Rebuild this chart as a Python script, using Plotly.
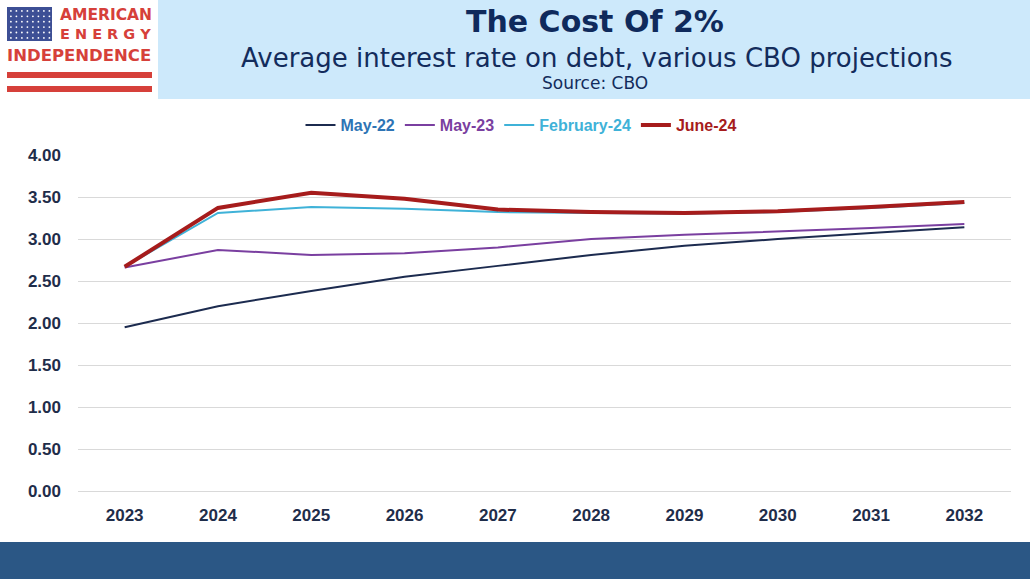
import plotly.graph_objects as go

# 数据
years = ['2023', '2024', '2025', '2026', '2027', '2028', '2029', '2030', '2031', '2032']
may_22 = [1.95, 2.20, 2.38, 2.55, 2.68, 2.81, 2.92, 3.00, 3.07, 3.14]
may_23 = [2.66, 2.87, 2.81, 2.83, 2.90, 3.00, 3.05, 3.09, 3.13, 3.18]
feb_24 = [2.67, 3.31, 3.38, 3.36, 3.32, 3.31, 3.30, 3.32, 3.37, 3.43]
jun_24 = [2.67, 3.37, 3.55, 3.48, 3.35, 3.32, 3.31, 3.33, 3.38, 3.44]

series = [
    ('May-22', may_22, '#1c2b4f', '#2e74b5', 2),
    ('May-23', may_23, '#7a3fa0', '#7a3fa0', 2),
    ('February-24', feb_24, '#3fb2d8', '#3fb2d8', 2),
    ('June-24', jun_24, '#a61c1c', '#a61c1c', 4),
]

W, H = 1030, 579
L, R, T, B = 78, 19, 155, 88
pw, ph = W - L - R, H - T - B


def px(x):
    return (x - L) / pw


def py(y):
    return (H - B - y) / ph


fig = go.Figure()
for name, vals, line_col, text_col, lw in series:
    fig.add_trace(go.Scatter(
        x=years, y=vals, mode='lines',
        name=f"<span style='color:{text_col}'><b>{name}</b></span>",
        line=dict(color=line_col, width=lw),
    ))

shapes = []
# 顶部浅蓝色横幅
shapes.append(dict(type='rect', xref='paper', yref='paper', x0=px(158), x1=px(1030),
                   y0=py(99), y1=py(0), fillcolor='#cde9fb', line_width=0, layer='below'))
# 底部深蓝色条
shapes.append(dict(type='rect', xref='paper', yref='paper', x0=px(0), x1=px(1030),
                   y0=py(579), y1=py(542), fillcolor='#2b5785', line_width=0, layer='below'))
# logo：旗帜和红色条纹
shapes.append(dict(type='rect', xref='paper', yref='paper', x0=px(7), x1=px(52),
                   y0=py(41), y1=py(7), fillcolor='#3d4f95', line_width=0))
for r in range(6):
    for c in range(8):
        cx, cy = 10 + c * 5.5, 10 + r * 5.4
        shapes.append(dict(type='circle', xref='paper', yref='paper',
                           x0=px(cx), x1=px(cx + 1.8), y0=py(cy + 1.8), y1=py(cy),
                           fillcolor='white', line_width=0))
for y0, y1 in [(72, 78), (86, 92)]:
    shapes.append(dict(type='rect', xref='paper', yref='paper', x0=px(7), x1=px(152),
                       y0=py(y1), y1=py(y0), fillcolor='#d6403a', line_width=0))

annotations = [
    dict(text='<b>The Cost Of 2%</b>', x=px(595), y=py(21), font=dict(size=30, color='#0f2a5c', family='DejaVu Sans')),
    dict(text='Average interest rate on debt, various CBO projections', x=px(597), y=py(58),
         font=dict(size=26, color='#132c5c', family='DejaVu Sans')),
    dict(text='Source: CBO', x=px(595), y=py(83), font=dict(size=17, color='#132c5c', family='DejaVu Sans')),
    dict(text='<b>AMERICAN</b>', x=px(106), y=py(15), font=dict(size=15.5, color='#d6403a', family='DejaVu Sans')),
    dict(text='<b>E N E R G Y</b>', x=px(105), y=py(34), font=dict(size=14.5, color='#d6403a', family='DejaVu Sans')),
    dict(text='<b>INDEPENDENCE</b>', x=px(79), y=py(56), font=dict(size=16.5, color='#d6403a', family='DejaVu Sans')),
]
for a in annotations:
    a.update(xref='paper', yref='paper', showarrow=False, xanchor='center', yanchor='middle')

fig.update_layout(
    width=W, height=H,
    margin=dict(l=L, r=R, t=T, b=B),
    paper_bgcolor='white', plot_bgcolor='white',
    font=dict(family='Liberation Sans', size=17, color='#1f2d4a'),
    showlegend=True,
    legend=dict(orientation='h', x=px(521), xanchor='center', y=py(125), yanchor='middle',
                font=dict(size=16, family='Liberation Sans'), itemwidth=30,
                bgcolor='rgba(0,0,0,0)'),
    shapes=shapes,
    annotations=annotations,
)
fig.update_xaxes(range=[-0.5, 9.5], showgrid=False, showline=False, ticks='',
                 tickfont=dict(size=17, color='#1f2d4a'),
                 tickprefix='<b>', ticksuffix='</b>', ticklabelstandoff=12)
fig.update_yaxes(range=[0, 4], dtick=0.5, tickformat='.2f', showgrid=True, gridcolor='#d9d9d9',
                 gridwidth=1, zeroline=True, zerolinecolor='#d9d9d9', zerolinewidth=1,
                 tickfont=dict(size=17, color='#1f2d4a'), tickprefix='<b>', ticksuffix='</b>',
                 ticklabelstandoff=16)

fig.write_html('out.html', config={'displayModeBar': False},
               post_script="document.body.style.margin='0px';")
